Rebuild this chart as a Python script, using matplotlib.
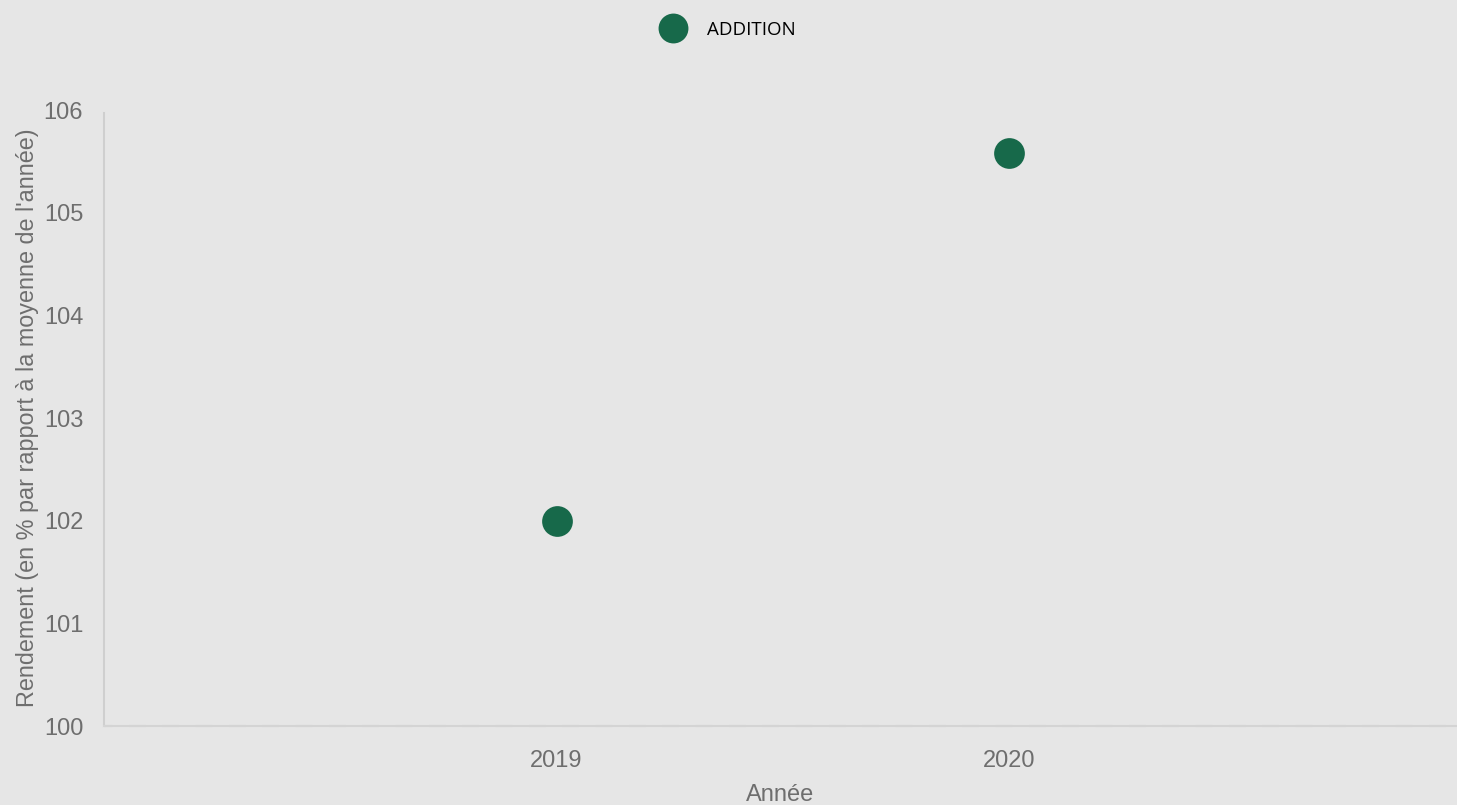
import matplotlib
matplotlib.use('Agg')
import matplotlib.pyplot as plt
from matplotlib.lines import Line2D

years = [2019, 2020]
rendement = [102.0, 105.58]
serie = 'ADDITION'
yticks = [100, 101, 102, 103, 104, 105, 106]

bg = '#e6e6e6'
green = '#17694a'
grey = '#6e6e6e'

fig = plt.figure(figsize = (14.57, 8.05), dpi = 100, facecolor = bg)
ax = fig.add_axes([104/1457, 1 - 726/805, 1 - 104/1457, 616/805])
ax.set_facecolor(bg)

ax.scatter(years, rendement, s = 490, color = green, zorder = 3, linewidths = 0)

ax.set_xlim(2018.0, 2020.99)
ax.set_ylim(100, 106)
ax.set_xticks(years)
ax.set_xticklabels([str(y) for y in years])
ax.set_yticks(yticks)
ax.tick_params(length = 0, labelsize = 17, labelcolor = grey)
ax.tick_params(axis = 'x', pad = 17)
ax.tick_params(axis = 'y', pad = 15)
for lab in ax.get_xticklabels() + ax.get_yticklabels():
 lab.set_family('Liberation Sans')

for side in ['top', 'right']:
 ax.spines[side].set_visible(False)
ax.spines['left'].set_color('#cfcfcf')
ax.spines['left'].set_linewidth(1.5)
ax.spines['left'].set_bounds(100, 105.97)
ax.spines['bottom'].set_color('#d4d4d4')
ax.spines['bottom'].set_linewidth(1.5)
# darker dashes over the base line, like the reference
ax.axhline(100, color = '#bababa', linewidth = 1.5, linestyle = (4, (8, 8)), zorder = 2.5, clip_on = False)

ax.set_xlabel('Année', family = 'Liberation Sans', fontsize = 17, color = grey, labelpad = 9)
ax.set_ylabel("Rendement (en % par rapport à la moyenne de l'année)", family = 'Liberation Sans',
 fontsize = 16.8, color = grey, labelpad = 3)

handle = Line2D([], [], marker = 'o', linestyle = '', markersize = 21.5, color = green, markeredgewidth = 0)
fig.legend([handle], [serie], loc = 'center', bbox_to_anchor = (0.4975, 1 - 30/805), frameon = False,
 prop = {'family': 'Open Sans', 'size': 13.5}, handletextpad = 0.85)

fig.savefig('out.png', dpi = 100, facecolor = bg)
